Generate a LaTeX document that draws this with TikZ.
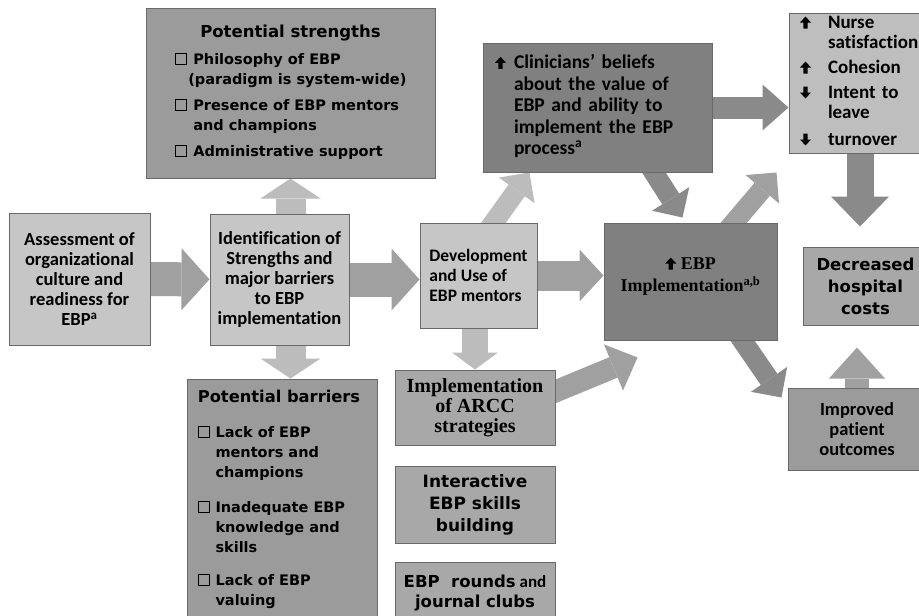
\documentclass[tikz,border=0pt]{standalone}
\usepackage{fontspec}
\setmainfont{Carlito}[Ligatures=NoCommon]
\newfontfamily\verdfont{DejaVu Sans}
\newfontfamily\serffont{Liberation Serif}
\usetikzlibrary{arrows.meta,calc}
\pgfdeclarelayer{bg}
\pgfsetlayers{bg,main}

\definecolor{boxlight}{RGB}{198,198,198}
\definecolor{boxmid}{RGB}{155,155,155}
\definecolor{boxdark}{RGB}{128,128,128}
\definecolor{boxnurse}{RGB}{190,190,190}
\definecolor{boxpale}{RGB}{168,168,168}
\definecolor{boxedge}{RGB}{105,105,105}
\definecolor{arrowgray}{RGB}{160,160,160}
\definecolor{arrowlight}{RGB}{188,188,188}
\definecolor{arrowdark}{RGB}{138,138,138}

\newcommand{\upmark}{\tikz[x=1pt,y=1pt,baseline=0pt]\fill[black] (-2.2,0) -- (2.2,0) -- (2.2,6) -- (5.5,6) -- (0,12) -- (-5.5,6) -- (-2.2,6) -- cycle;}
\newcommand{\downmark}{\tikz[x=1pt,y=1pt,baseline=0pt]\fill[black] (-2.2,12) -- (2.2,12) -- (2.2,6) -- (5.5,6) -- (0,0) -- (-5.5,6) -- (-2.2,6) -- cycle;}
\newcommand{\chkbox}{\tikz[x=1pt,y=1pt,baseline=0pt]\draw[black,line width=0.7pt] (0,0) rectangle (11,11);}

\begin{document}
\begin{tikzpicture}[x=1pt,y=-1pt,
    box/.style={draw=boxedge, line width=1pt, inner sep=0pt, align=center},
    calibri/.style={font=\bfseries\fontsize{18.5}{20}\selectfont},
    fatarrow/.style n args={3}{draw=arrowgray, line width=#1, -{Triangle[width=#2,length=#3,line width=0pt]}}]
  \useasboundingbox (0,0) rectangle (919,616);
  \clip (0,0) rectangle (919,616);

  % left column
  \node[box, calibri, fill=boxlight, minimum width=141pt, minimum height=132pt] (assess) at (79.5,279)
    {Assessment of\\ organizational\\ culture and\\ readiness for\\ EBP\textsuperscript{a}};
  \node[box, calibri, fill=boxlight, minimum width=139pt, minimum height=131pt] (ident) at (279.5,279.5)
    {Identification of\\ Strengths and\\ major barriers\\ to EBP\\ implementation};
  \node[box, fill=boxmid, minimum width=289pt, minimum height=170pt,
        font=\verdfont\bfseries\fontsize{14.5}{20}\selectfont] (strengths) at (290.5,93)
    {\begin{tabular}{@{}l@{\hspace{7pt}}l@{}}
      \multicolumn{2}{c}{\fontsize{16.5}{20}\selectfont Potential strengths}\\[7pt]
      \chkbox & Philosophy of EBP\\
       & \hspace{-5pt}(paradigm is system-wide)\\[6pt]
      \chkbox & Presence of EBP mentors\\
       & and champions\\[6pt]
      \chkbox & Administrative support
    \end{tabular}};
  \node[box, fill=boxmid, minimum width=190pt, minimum height=241pt,
        font=\verdfont\bfseries\fontsize{14.5}{20}\selectfont] (barriers) at (282,499.5)
    {\begin{tabular}{@{}l@{\hspace{6pt}}l@{}}
      \multicolumn{2}{@{}l}{\fontsize{16.3}{20}\selectfont Potential barriers}\\[15pt]
      \chkbox & Lack of EBP\\
       & mentors and\\
       & champions\\[15pt]
      \chkbox & Inadequate EBP\\
       & knowledge and\\
       & skills\\[13pt]
      \chkbox & Lack of EBP\\
       & valuing
    \end{tabular}};

  % middle column
  \node[box, align=left, fill=boxlight, minimum width=117pt, minimum height=105pt,
        font=\bfseries\fontsize{17.5}{20}\selectfont] (dev) at (478.5,275.5)
    {Development\\ and Use of\\ EBP mentors};
  \node[box, fill=boxpale, minimum width=160pt, minimum height=75pt,
        font=\serffont\bfseries\fontsize{20}{20}\selectfont] (arcc) at (475,407.5)
    {Implementation\\ of ARCC\\ strategies};
  \node[box, fill=boxpale, minimum width=160pt, minimum height=77pt,
        font=\verdfont\bfseries\fontsize{17}{22}\selectfont] (inter) at (475,504.5)
    {Interactive\\ EBP skills\\ building};
  \node[box, fill=boxpale, minimum width=160pt, minimum height=62pt,
        font=\verdfont\bfseries\fontsize{16.5}{20}\selectfont] (rounds) at (475,593)
    {EBP\ \ rounds{\rmfamily\fontsize{17}{20}\selectfont\ and}\\ journal clubs};
  \node[box, align=left, fill=boxdark, minimum height=129pt, text width=205pt, inner xsep=12pt,
        font=\bfseries\fontsize{19.5}{21.5}\selectfont] (clin) at (597.5,107.5)
    {\noindent\begin{tabular}{@{}l@{\hspace{8pt}}l@{}}
      \upmark & Clinicians’ beliefs\\
       & about the value of\\
       & EBP and ability to\\
       & implement the EBP\\
       & process\textsuperscript{a}
    \end{tabular}};
  \node[box, fill=boxdark, minimum width=173pt, minimum height=117pt,
        font=\serffont\bfseries\fontsize{18}{22}\selectfont] (impl) at (690.5,281.5)
    {\upmark\ EBP\\ Implementation\textsuperscript{a,b}\\[-8pt]\mbox{}};

  % right column
  \node[box, align=left, fill=boxnurse, minimum height=140pt, text width=120pt, inner xsep=11pt,
        font=\bfseries\fontsize{19}{20}\selectfont] (nurse) at (860,83)
    {\noindent\begin{tabular}{@{}l@{\hspace{17pt}}l@{}}
      \upmark & Nurse\\
       & satisfaction\\[5pt]
      \upmark & Cohesion\\[5pt]
      \downmark & Intent to\\
       & leave\\[7pt]
      \downmark & turnover
    \end{tabular}};
  \node[box, fill=boxpale, minimum width=125pt, minimum height=78pt,
        font=\verdfont\bfseries\fontsize{16.5}{22}\selectfont] (costs) at (865.5,286)
    {Decreased\\ hospital\\ costs};
  \node[box, calibri, fill=boxmid, minimum width=138pt, minimum height=82pt] (outcomes) at (857,429)
    {Improved\\ patient\\ outcomes};

  % block arrows behind the boxes
  \begin{pgfonlayer}{bg}
    \draw[fatarrow={34pt}{62pt}{28pt}] (assess) -- (ident);
    \draw[fatarrow={34pt}{62pt}{28pt}] (ident.east) -- (dev.west |- ident.east);
    \draw[fatarrow={30pt}{52pt}{24pt}] (dev.east) -- (impl.west |- dev.east);
    \draw[fatarrow={30pt}{60pt}{20pt}, draw=arrowlight] (strengths.south |- ident.north) -- (strengths.south);
    \draw[fatarrow={30pt}{60pt}{20pt}, draw=arrowlight] (strengths.south |- ident.south) -- (strengths.south |- barriers.north);
    \draw[fatarrow={26pt}{46pt}{17pt}, draw=arrowlight] (arcc.north |- dev.south) -- (arcc.north);
    \draw[fatarrow={20pt}{44pt}{22pt}, draw=arrowlight] ([xshift=8pt,yshift=-10pt]dev.north) -- ([xshift=47pt]clin.south west);
    \draw[fatarrow={20pt}{44pt}{22pt}, draw=arrowdark] ([xshift=50pt,yshift=10pt]clin.south) -- ([xshift=-8pt,yshift=5pt]impl.north);
    \draw[fatarrow={20pt}{44pt}{22pt}] ([xshift=35pt,yshift=-10pt]impl.north) -- ([xshift=-12pt,yshift=-19pt]nurse.south west);
    \draw[fatarrow={22pt}{46pt}{26pt}, draw=arrowdark] (clin.east) -- (nurse.west |- clin.east);
    \draw[fatarrow={27pt}{58pt}{30pt}, draw=arrowdark] (nurse.south) -- ($(nurse.south |- costs.north)+(0,-20)$);
    \draw[fatarrow={24pt}{56pt}{31pt}] (outcomes.north) -- ($(outcomes.north |- costs.south)+(0,22)$);
    \draw[fatarrow={20pt}{44pt}{22pt}, draw=arrowdark] ([xshift=45pt,yshift=10pt]impl.south) -- ([xshift=-6pt,yshift=-10pt]outcomes.north west);
    \draw[fatarrow={22pt}{50pt}{26pt}] ([xshift=-10pt,yshift=12pt]arcc.east) -- ([xshift=34pt,yshift=-17pt]impl.south west);
  \end{pgfonlayer}
\end{tikzpicture}
\end{document}
